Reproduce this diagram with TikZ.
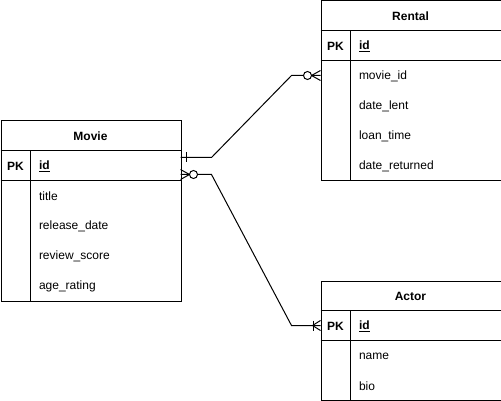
\documentclass[tikz,border=0pt]{standalone}
\usepackage{fontspec}
\setmainfont{Liberation Sans}
\begin{document}
\begin{tikzpicture}[x=1pt,y=-1pt,line width=1pt,
  tbl/.style={draw, minimum width=180pt, inner sep=0pt, anchor=north west},
  hdr/.style={font=\fontsize{12}{14}\selectfont\bfseries, inner sep=0pt, anchor=center, yshift=-1.2pt},
  pk/.style={font=\fontsize{12}{14}\selectfont\bfseries, inner sep=0pt, anchor=center, yshift=-1.2pt},
  key/.style={font=\fontsize{12}{14}\selectfont\bfseries, inner sep=0pt, anchor=west, yshift=-1.2pt},
  fld/.style={font=\fontsize{12}{14}\selectfont, inner sep=0pt, anchor=west, yshift=-1.2pt},
  conn/.style={draw, line width=1pt},
  ring/.style={draw, fill=white, line width=1pt},
]
\useasboundingbox (0,0) rectangle (501,401);
\begin{scope}[shift={(0.5,0.5)}]
% Movie
\node[tbl, minimum height=180pt] (movie) at (0,120) {};
\draw (0,150) -- (180,150) (0,180) -- (180,180) (30,150) -- (30,300);
\node[hdr] (movieh) at (90,135) {Movie};
\node[pk] (moviepk) at (15,165) {PK};
\node[key] (movieid) at (38,165) {\underline{id}};
\node[fld] (mtitle) at (38,195) {title};
\node[fld] (mrel) at (38,225) {release\_date};
\node[fld] (mrev) at (38,255) {review\_score};
\node[fld] (mage) at (38,285) {age\_rating};
% Rental
\node[tbl, minimum height=180pt] (rental) at (320,0) {};
\draw (320,30) -- (500,30) (320,60) -- (500,60) (350,30) -- (350,180);
\node[hdr] (rentalh) at (410,15) {Rental};
\node[pk] (rentalpk) at (335,45) {PK};
\node[key] (rentalid) at (358,45) {\underline{id}};
\node[fld] (rmov) at (358,75) {movie\_id};
\node[fld] (rlent) at (358,105) {date\_lent};
\node[fld] (rloan) at (358,135) {loan\_time};
\node[fld] (rret) at (358,165) {date\_returned};
% Actor
\node[tbl, minimum height=119pt] (actor) at (320,280) {};
\draw (320,310) -- (500,310) (320,340) -- (500,340) (350,310) -- (350,399);
\node[hdr] (actorh) at (410,295) {Actor};
\node[pk] (actorpk) at (335,325) {PK};
\node[key] (actorid) at (358,325) {\underline{id}};
\node[fld] (aname) at (358,355) {name};
\node[fld] (abio) at (358,385) {bio};
% connectors
\coordinate (m1) at (180,157);
\coordinate (m1b) at (211,157);
\coordinate (r1b) at (291,75);
\coordinate (r1) at (320,75);
\draw[conn] (m1) -- (m1b) -- (r1b) -- (r1);
\coordinate (m2) at (180,174);
\coordinate (m2b) at (211,174);
\coordinate (a1b) at (291,325);
\coordinate (a1) at (320,325);
\draw[conn] (m2) -- (m2b) -- (a1b) -- (a1);
% marks: Movie end of rental line (one)
\draw[conn] (186,152) -- (186,162);
% Rental end (zero to many)
\draw[conn] (311,75) -- (320,70) (311,75) -- (320,80);
\draw[ring] (307,75) circle (4);
% Movie end of actor line (zero to many)
\draw[conn] (189,174) -- (180,169) (189,174) -- (180,179);
\draw[ring] (193,174) circle (4);
% Actor end (one to many)
\draw[conn] (313,320) -- (313,330);
\draw[conn] (312,325) -- (320,320) (312,325) -- (320,330);
\end{scope}
\end{tikzpicture}
\end{document}
